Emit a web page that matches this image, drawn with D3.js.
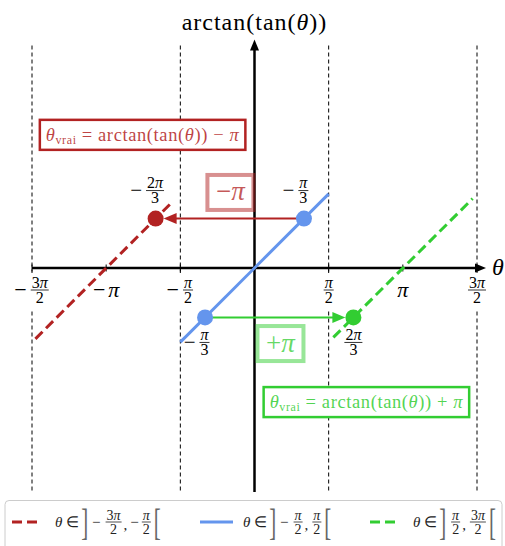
<!DOCTYPE html>
<html>
<head>
<meta charset="utf-8">
<script src="https://cdn.jsdelivr.net/npm/d3@7"></script>
<style>
  body { margin: 0; background: #fff; }
  svg text, svg tspan { font-family: "Liberation Serif", serif; }
</style>
</head>
<body>
<svg id="chart" width="505" height="546" font-family="Liberation Serif"></svg>
<script>
const PI = Math.PI;
const FONT = "Liberation Serif";

// x axis ticks and their labels (sign, numerator, denominator)
const xTicks = [-1.5 * PI, -PI, -0.5 * PI, 0.5 * PI, PI, 1.5 * PI];
const xTickLabels = [["−", "3π", "2"], ["−", "π", null], ["−", "π", "2"], ["", "π", "2"], ["", "π", null], ["", "3π", "2"]];

// vertical asymptotes of tan
const asymptotes = [-1.5 * PI, -0.5 * PI, 0.5 * PI, 1.5 * PI];

// the three branches: [theta, value] at both ends
const branchColors = ["#b22222", "#6495ed", "#32cd32"];
const branchDashed = [true, false, true];
const branchStart = [[-4.64, -1.50], [-0.5 * PI, -0.5 * PI], [1.67, -1.47]];
const branchEnd = [[-1.74, 1.40], [0.5 * PI, 0.5 * PI], [4.62, 1.47]];
const legendLabels = [
  [["−", "3π", "2"], ["−", "π", "2"]],
  [["−", "π", "2"], ["", "π", "2"]],
  [["", "π", "2"], ["", "3π", "2"]]
];

// highlighted points
const pointTheta = [-2 * PI / 3, PI / 3, -PI / 3, 2 * PI / 3];
const pointValue = [PI / 3, PI / 3, -PI / 3, -PI / 3];
const pointColors = ["#b22222", "#6495ed", "#6495ed", "#32cd32"];
const pointLabels = [["−", "2π", "3"], ["−", "π", "3"], ["−", "π", "3"], ["", "2π", "3"]];
const pointLabelSide = [-1, -1, 1, 1];

// shift arrows (from point index -> to point index)
const arrowFrom = [1, 2];
const arrowTo = [0, 3];
const arrowColors = ["#b22222", "#32cd32"];

const svg = d3.select("#chart");

const x = d3.scaleLinear().domain([-1.5 * PI, 1.5 * PI]).range([32, 477]);
const y = d3.scaleLinear().domain([-1.5 * PI, 1.5 * PI]).range([490.5, 45.5]);

// text element with the serif font set on it
function addText(parent) {
  return parent.append("text").attr("font-family", FONT);
}

// Greek letters italic, the rest upright
function richText(sel, str) {
  let buf = "", it = null;
  const flush = () => {
    if (buf) sel.append("tspan").attr("font-family", FONT).attr("font-style", it ? "italic" : "normal").text(buf);
    buf = "";
  };
  for (const ch of str) {
    const isIt = /[θπ]/.test(ch);
    if (isIt !== it) { flush(); it = isIt; }
    buf += ch;
  }
  flush();
}

// lay out a row of text pieces and fractions, origin on the fraction bar
function drawMath(parent, parts, color) {
  const col = color || "#000";
  const g = parent.append("g").attr("fill", col);
  let cx = 0;
  parts.forEach(p => {
    if (p.num !== undefined) {
      const s = p.size;
      const tn = addText(g).attr("text-anchor", "middle").attr("font-size", s);
      richText(tn, p.num);
      const td = addText(g).attr("text-anchor", "middle").attr("font-size", s);
      richText(td, p.den);
      const w = Math.max(tn.node().getComputedTextLength(), td.node().getComputedTextLength()) + 2;
      const mid = cx + 1 + w / 2;
      tn.attr("x", mid).attr("y", -2.5);
      td.attr("x", mid).attr("y", s * 0.68 + 2);
      g.append("line")
        .attr("x1", mid - w / 2).attr("x2", mid + w / 2)
        .attr("y1", 0).attr("y2", 0)
        .attr("stroke", col).attr("stroke-width", 0.8);
      cx += w + 2 + (p.gap || 0);
    } else {
      const dy = p.dy !== undefined ? p.dy : p.size * 0.3;
      const t = addText(g)
        .attr("transform", `translate(${cx},${dy}) scale(1,${p.sy || 1})`)
        .attr("font-size", p.size);
      if (p.fill) t.attr("fill", p.fill);
      richText(t, p.text);
      cx += t.node().getComputedTextLength() + (p.gap || 0);
    }
  });
  return { g: g, width: cx };
}

function labelParts(lbl, bigSize, fracSize) {
  const parts = [];
  if (lbl[0]) parts.push({ text: lbl[0], size: bigSize, gap: 3 });
  if (lbl[2]) parts.push({ num: lbl[1], den: lbl[2], size: fracSize });
  else parts.push({ text: lbl[1], size: bigSize });
  return parts;
}

// asymptotes
svg.selectAll(".asym")
  .data(asymptotes)
  .enter().append("line")
  .attr("x1", d => x(d)).attr("x2", d => x(d))
  .attr("y1", y(1.5 * PI)).attr("y2", y(-1.5 * PI) + 1.5)
  .attr("stroke", "#000").attr("stroke-width", 1)
  .attr("stroke-dasharray", "4,3");

// tick labels with white background
const y0 = y(0);
xTicks.forEach((t, i) => {
  const m = drawMath(svg, labelParts(xTickLabels[i], 22, 16), "#000");
  const bx = x(t) - m.width / 2;
  m.g.attr("transform", `translate(${bx},${y0 + 22})`);
  svg.insert("rect", "g")
    .attr("x", bx - 1).attr("y", y0 + 5)
    .attr("width", m.width + 2).attr("height", 37)
    .attr("fill", "#fff");
  svg.append("line")
    .attr("x1", x(t)).attr("x2", x(t))
    .attr("y1", y0 - 3.5).attr("y2", y0 + 3.5)
    .attr("stroke", "#000").attr("stroke-width", 1);
});

// axes with arrow heads
svg.append("line")
  .attr("x1", x(-1.5 * PI)).attr("x2", x(1.5 * PI) + 2)
  .attr("y1", y0).attr("y2", y0)
  .attr("stroke", "#000").attr("stroke-width", 2.5);
svg.append("path")
  .attr("d", `M${x(1.5 * PI) + 9},${y0} l-11,-4.5 l0,9 z`)
  .attr("fill", "#000");
svg.append("line")
  .attr("x1", x(0)).attr("x2", x(0))
  .attr("y1", y(-1.5 * PI) + 1.5).attr("y2", y(1.5 * PI) + 2)
  .attr("stroke", "#000").attr("stroke-width", 2.5);
svg.append("path")
  .attr("d", `M${x(0)},${y(1.5 * PI) - 6} l-4.5,11 l9,0 z`)
  .attr("fill", "#000");

addText(svg)
  .attr("x", x(0)).attr("y", 30)
  .attr("text-anchor", "middle")
  .attr("font-size", 24).attr("letter-spacing", 1)
  .call(s => richText(s, "arctan(tan(θ))"));
addText(svg)
  .attr("x", x(1.5 * PI) + 15).attr("y", y0 + 7)
  .attr("font-size", 24).attr("font-style", "italic")
  .text("θ");

// formula boxes
function formulaBox(cx, cy, sign, color) {
  const t = addText(svg)
    .attr("x", cx).attr("y", cy + 6)
    .attr("text-anchor", "middle")
    .attr("fill", color).attr("fill-opacity", 0.85)
    .attr("font-size", 18.5).attr("letter-spacing", 0.6);
  richText(t, "θ");
  t.append("tspan").attr("font-family", FONT).attr("baseline-shift", "-25%").attr("font-size", 12).text("vrai");
  richText(t, " = arctan(tan(θ)) " + sign + " π");
  const w = t.node().getComputedTextLength();
  svg.insert("rect", () => t.node())
    .attr("x", cx - w / 2 - 6).attr("y", cy - 15)
    .attr("width", w + 12).attr("height", 30)
    .attr("fill", "#fff")
    .attr("stroke", color).attr("stroke-width", 2.5);
}
formulaBox(x(-2.37), y(2.82), "−", "#b22222");
formulaBox(x(2.37), y(-2.84), "+", "#32cd32");

// shift boxes
function shiftBox(cx, cy, txt, color) {
  svg.append("rect")
    .attr("x", cx - 23).attr("y", cy - 17.5)
    .attr("width", 46).attr("height", 35)
    .attr("fill", "none")
    .attr("stroke", color).attr("stroke-opacity", 0.5).attr("stroke-width", 4);
  addText(svg)
    .attr("x", cx).attr("y", cy + 8)
    .attr("text-anchor", "middle")
    .attr("fill", color).attr("fill-opacity", 0.75)
    .attr("font-size", 27)
    .call(s => richText(s, txt));
}
shiftBox(x(-0.51), y(1.6), "−π", "#b22222");
shiftBox(x(0.55), y(-1.6), "+π", "#32cd32");

// branches
branchColors.forEach((c, i) => {
  svg.append("line")
    .attr("x1", x(branchStart[i][0])).attr("y1", y(branchStart[i][1]))
    .attr("x2", x(branchEnd[i][0])).attr("y2", y(branchEnd[i][1]))
    .attr("stroke", c).attr("stroke-width", 3)
    .attr("stroke-dasharray", branchDashed[i] ? "10,5" : null);
});

// arrows
const r = 8;
arrowFrom.forEach((fi, k) => {
  const ti = arrowTo[k];
  const x1 = x(pointTheta[fi]), yy = y(pointValue[fi]);
  const dir = Math.sign(pointTheta[ti] - pointTheta[fi]);
  const tip = x(pointTheta[ti]) - dir * r;
  svg.append("line")
    .attr("x1", x1).attr("x2", tip - dir * 10)
    .attr("y1", yy).attr("y2", yy)
    .attr("stroke", arrowColors[k]).attr("stroke-width", 2);
  svg.append("path")
    .attr("d", `M${tip},${yy} l${-dir * 13},-5.5 l0,11 z`)
    .attr("fill", arrowColors[k]);
});

// points and their labels
svg.selectAll(".pt")
  .data(pointTheta)
  .enter().append("circle")
  .attr("cx", d => x(d))
  .attr("cy", (d, i) => y(pointValue[i]))
  .attr("r", r)
  .attr("fill", (d, i) => pointColors[i]);

pointTheta.forEach((t, i) => {
  const m = drawMath(svg, labelParts(pointLabels[i], 21, 16), "#000");
  const shift = pointLabels[i][0] ? 8 : 0;
  const ly = y(pointValue[i]) + (pointLabelSide[i] < 0 ? -28 : 25);
  m.g.attr("transform", `translate(${x(t) - m.width / 2 - shift},${ly})`);
});

// legend
const legY = 522;
svg.append("rect")
  .attr("x", 5).attr("y", 500.5)
  .attr("width", 497).attr("height", 60)
  .attr("rx", 4)
  .attr("fill", "#fff").attr("stroke", "#ccc").attr("stroke-width", 1);

const sampleX = [12, 200, 370];
const textX = [55, 243, 413];
branchColors.forEach((c, i) => {
  svg.append("line")
    .attr("x1", sampleX[i]).attr("x2", sampleX[i] + (branchDashed[i] ? 28 : 33))
    .attr("y1", legY).attr("y2", legY)
    .attr("stroke", c).attr("stroke-width", 3)
    .attr("stroke-dasharray", branchDashed[i] ? "10,5" : null);
  const a = legendLabels[i][0], b = legendLabels[i][1];
  const parts = [{ text: "θ ∈ ", size: 15, gap: 2 }, { text: "]", size: 21, sy: 1.8, dy: 13, fill: "#666", gap: 4 }];
  if (a[0]) parts.push({ text: "−", size: 15, gap: 4 });
  parts.push({ num: a[1], den: a[2], size: 14, gap: 1 });
  parts.push({ text: ",", size: 15, dy: 8, gap: 3 });
  if (b[0]) parts.push({ text: "−", size: 15, gap: 2 });
  parts.push({ num: b[1], den: b[2], size: 14, gap: 2 });
  parts.push({ text: "[", size: 21, sy: 1.8, dy: 13, fill: "#666" });
  const m = drawMath(svg, parts, "#222");
  m.g.attr("transform", `translate(${textX[i]},${legY})`);
});
</script>
</body>
</html>
